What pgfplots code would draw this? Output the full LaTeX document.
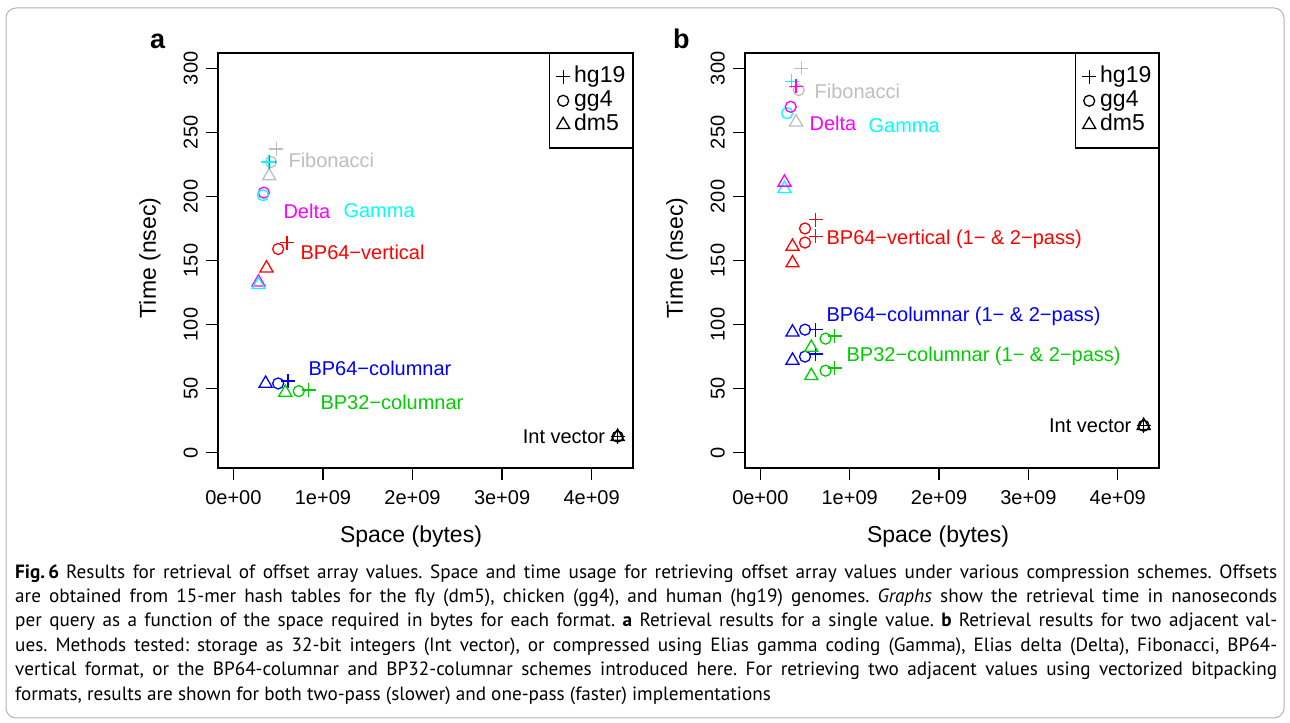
\documentclass[border=0pt]{standalone}
\usepackage{fontspec}
\setmainfont{Liberation Sans}
\newfontfamily\capfont{PT Sans}
\usepackage{pgfplots}
\pgfplotsset{compat=1.18}
\definecolor{rgray}{HTML}{BEBEBE}
\definecolor{rgreen}{HTML}{00CD00}
\definecolor{rcyan}{HTML}{00FFFF}
\definecolor{rmag}{HTML}{FF00FF}
\definecolor{rred}{HTML}{FF0000}
\definecolor{rblue}{HTML}{0000FF}
\newcommand\fs[2]{\fontsize{#1bp}{#2bp}\selectfont}
\tikzset{
  hg/.style={only marks, mark=+, mark size=7bp, line width=1.3bp},
  gg/.style={only marks, mark=o, mark size=5.5bp, line width=1.3bp},
  dm/.style={only marks, mark=triangle, mark size=7.5bp, line width=1.3bp},
  lab/.style={anchor=west, inner sep=0bp, font=\fs{20}{24}},
}
\pgfplotsset{
  rplot/.style={
    scale only axis, height=415bp,
    xmin=-0.1716, xmax=4.4616, ymin=-12, ymax=312,
    axis line style={line width=1.3bp},
    tick align=outside, xtick pos=bottom, ytick pos=left,
    major tick length=12bp,
    tick style={line width=1.3bp, black},
    xtick={0,1,2,3,4}, xticklabels={0e+00,1e+09,2e+09,3e+09,4e+09},
    ytick={0,50,...,300},
    ticklabel style={font=\fs{20}{24}},
    /pgf/number format/assume math mode=true,
    xticklabel style={anchor=north, inner sep=0bp},
    yticklabel style={rotate=90, anchor=south, inner sep=0bp},
    xticklabel shift=10bp, yticklabel shift=8bp,
    legend style={at={(1,1)}, anchor=north east, draw=black, line width=1.3bp,
      fill=white, inner xsep=7bp, inner ysep=12.5bp, row sep=2.7bp,
      font=\fs{23}{26}, nodes={inner sep=0bp, anchor=west, text height=16.5bp, text depth=4.8bp}},
    legend image code/.code={\draw[##1] plot coordinates {(0bp,0bp)};},
  },
}
\newcommand\legsp{\hspace*{4bp}}
\begin{document}
\begin{tikzpicture}
\path[use as bounding box] (0,0) rectangle (1290bp,723bp);
\draw[gray!60, line width=1bp, rounded corners=10bp] (6bp,5bp) rectangle (1284bp,715bp);

% panel a
\begin{axis}[rplot, width=415bp, at={(218bp,255bp)}, anchor=south west]
\addlegendimage{hg,black}\addlegendentry{\legsp hg19}
\addlegendimage{gg,black}\addlegendentry{\legsp gg4}
\addlegendimage{dm,black}\addlegendentry{\legsp dm5}
% Fibonacci
\addplot[hg, rgray] coordinates {(0.48,237)};
\addplot[gg, rgray] coordinates {(0.42,227)};
\addplot[dm, rgray] coordinates {(0.40,216)};
% Delta
\addplot[hg, rmag] coordinates {(0.40,227)};
\addplot[gg, rmag] coordinates {(0.34,203)};
\addplot[dm, rmag] coordinates {(0.28,133)};
% Gamma
\addplot[hg, rcyan] coordinates {(0.39,227)};
\addplot[gg, rcyan] coordinates {(0.33,201)};
\addplot[dm, rcyan] coordinates {(0.28,131)};
% BP64-vertical
\addplot[hg, rred] coordinates {(0.60,164)};
\addplot[gg, rred] coordinates {(0.50,159)};
\addplot[dm, rred] coordinates {(0.37,144)};
% BP64-columnar
\addplot[hg, rblue] coordinates {(0.61,56)};
\addplot[gg, rblue] coordinates {(0.50,54)};
\addplot[dm, rblue] coordinates {(0.36,54)};
% BP32-columnar
\addplot[hg, rgreen] coordinates {(0.84,49)};
\addplot[gg, rgreen] coordinates {(0.73,48)};
\addplot[dm, rgreen] coordinates {(0.58,47)};
% Int vector
\addplot[hg, black] coordinates {(4.29,12.5)};
\addplot[gg, black] coordinates {(4.29,12.5)};
\addplot[dm, black] coordinates {(4.29,12.5)};
\node[lab, text=rgray] at (axis cs:0.614,227.9) {Fibonacci};
\node[lab, text=rmag] at (axis cs:0.558,188.7) {Delta};
\node[lab, text=rcyan] at (axis cs:1.228,188.7) {Gamma};
\node[lab, text=rred] at (axis cs:0.748,156.6) {BP64−vertical};
\node[lab, text=rblue] at (axis cs:0.837,65.8) {BP64−columnar};
\node[lab, text=rgreen] at (axis cs:0.971,39.2) {BP32−columnar};
\node[lab, anchor=east] at (axis cs:4.152,12.5) {Int vector};
\end{axis}

% panel b (two points per scheme where 1- and 2-pass differ)
\begin{axis}[rplot, width=414bp, at={(745bp,255bp)}, anchor=south west]
\addlegendimage{hg,black}\addlegendentry{\legsp hg19}
\addlegendimage{gg,black}\addlegendentry{\legsp gg4}
\addlegendimage{dm,black}\addlegendentry{\legsp dm5}
\addplot[hg, rgray] coordinates {(0.46,300)};
\addplot[gg, rgray] coordinates {(0.43,283)};
\addplot[dm, rgray] coordinates {(0.40,258)};
\addplot[hg, rcyan] coordinates {(0.35,290)};
\addplot[gg, rcyan] coordinates {(0.30,265)};
\addplot[dm, rcyan] coordinates {(0.27,206)};
\addplot[hg, rmag] coordinates {(0.40,286)};
\addplot[gg, rmag] coordinates {(0.34,270)};
\addplot[dm, rmag] coordinates {(0.27,211)};
\addplot[hg, rred] coordinates {(0.62,182)};
\addplot[hg, rred] coordinates {(0.62,169)};
\addplot[gg, rred] coordinates {(0.50,175)};
\addplot[gg, rred] coordinates {(0.50,164)};
\addplot[dm, rred] coordinates {(0.36,161)};
\addplot[dm, rred] coordinates {(0.36,148)};
\addplot[hg, rblue] coordinates {(0.62,96)};
\addplot[hg, rblue] coordinates {(0.62,77)};
\addplot[gg, rblue] coordinates {(0.50,96)};
\addplot[gg, rblue] coordinates {(0.50,75)};
\addplot[dm, rblue] coordinates {(0.36,94)};
\addplot[dm, rblue] coordinates {(0.36,72)};
\addplot[hg, rgreen] coordinates {(0.83,91)};
\addplot[hg, rgreen] coordinates {(0.83,66)};
\addplot[gg, rgreen] coordinates {(0.73,89)};
\addplot[gg, rgreen] coordinates {(0.73,64)};
\addplot[dm, rgreen] coordinates {(0.57,82)};
\addplot[dm, rgreen] coordinates {(0.57,60)};
\addplot[hg, black] coordinates {(4.29,21)};
\addplot[gg, black] coordinates {(4.29,21)};
\addplot[dm, black] coordinates {(4.29,21)};
\node[lab, text=rgray] at (axis cs:0.605,281.9) {Fibonacci};
\node[lab, text=rmag] at (axis cs:0.549,256.9) {Delta};
\node[lab, text=rcyan] at (axis cs:1.209,255.3) {Gamma};
\node[lab, text=rred] at (axis cs:0.739,166.8) {BP64−vertical (1− \& 2−pass)};
\node[lab, text=rblue] at (axis cs:0.739,106.5) {BP64−columnar (1− \& 2−pass)};
\node[lab, text=rgreen] at (axis cs:0.963,75.2) {BP32−columnar (1− \& 2−pass)};
\node[lab, anchor=east] at (axis cs:4.155,21.1) {Int vector};
\end{axis}

% panel letters and axis titles
\node[anchor=base west, inner sep=0bp, font=\fs{27}{30}\bfseries] at (150bp,674bp) {a};
\node[anchor=base west, inner sep=0bp, font=\fs{27}{30}\bfseries] at (673bp,674bp) {b};
\node[rotate=90, inner sep=0bp, font=\fs{23}{26}] at (150bp,465bp) {Time (nsec)};
\node[rotate=90, inner sep=0bp, font=\fs{23}{26}] at (677bp,465bp) {Time (nsec)};
\node[inner sep=0bp, font=\fs{23}{26}] at (411bp,186bp) {Space (bytes)};
\node[inner sep=0bp, font=\fs{23}{26}] at (938bp,186bp) {Space (bytes)};

% caption
\frenchspacing
\begin{scope}[every node/.style={anchor=base west, inner sep=0bp, font=\capfont\fs{19.2}{24}}]
\node at (15bp,144bp) {\makebox[1262bp][s]{{\bfseries Fig.\,6}\hspace{7bp}Results for retrieval of offset array values. Space and time usage for retrieving offset array values under various compression schemes. Offsets}};
\node at (15bp,120bp) {\makebox[1262bp][s]{are obtained from 15-mer hash tables for the fly (dm5), chicken (gg4), and human (hg19) genomes. \textit{Graphs} show the retrieval time in nanoseconds}};
\node at (15bp,96bp) {\makebox[1262bp][s]{per query as a function of the space required in bytes for each format. \textbf{a} Retrieval results for a single value. \textbf{b} Retrieval results for two adjacent val-}};
\node at (15bp,71bp) {\makebox[1262bp][s]{ues. Methods tested: storage as 32-bit integers (Int vector), or compressed using Elias gamma coding (Gamma), Elias delta (Delta), Fibonacci, BP64-}};
\node at (15bp,47bp) {\makebox[1262bp][s]{vertical format, or the BP64-columnar and BP32-columnar schemes introduced here. For retrieving two adjacent values using vectorized bitpacking}};
\node at (15bp,23bp) {formats, results are shown for both two-pass (slower) and one-pass (faster) implementations};
\end{scope}
\end{tikzpicture}
\end{document}
